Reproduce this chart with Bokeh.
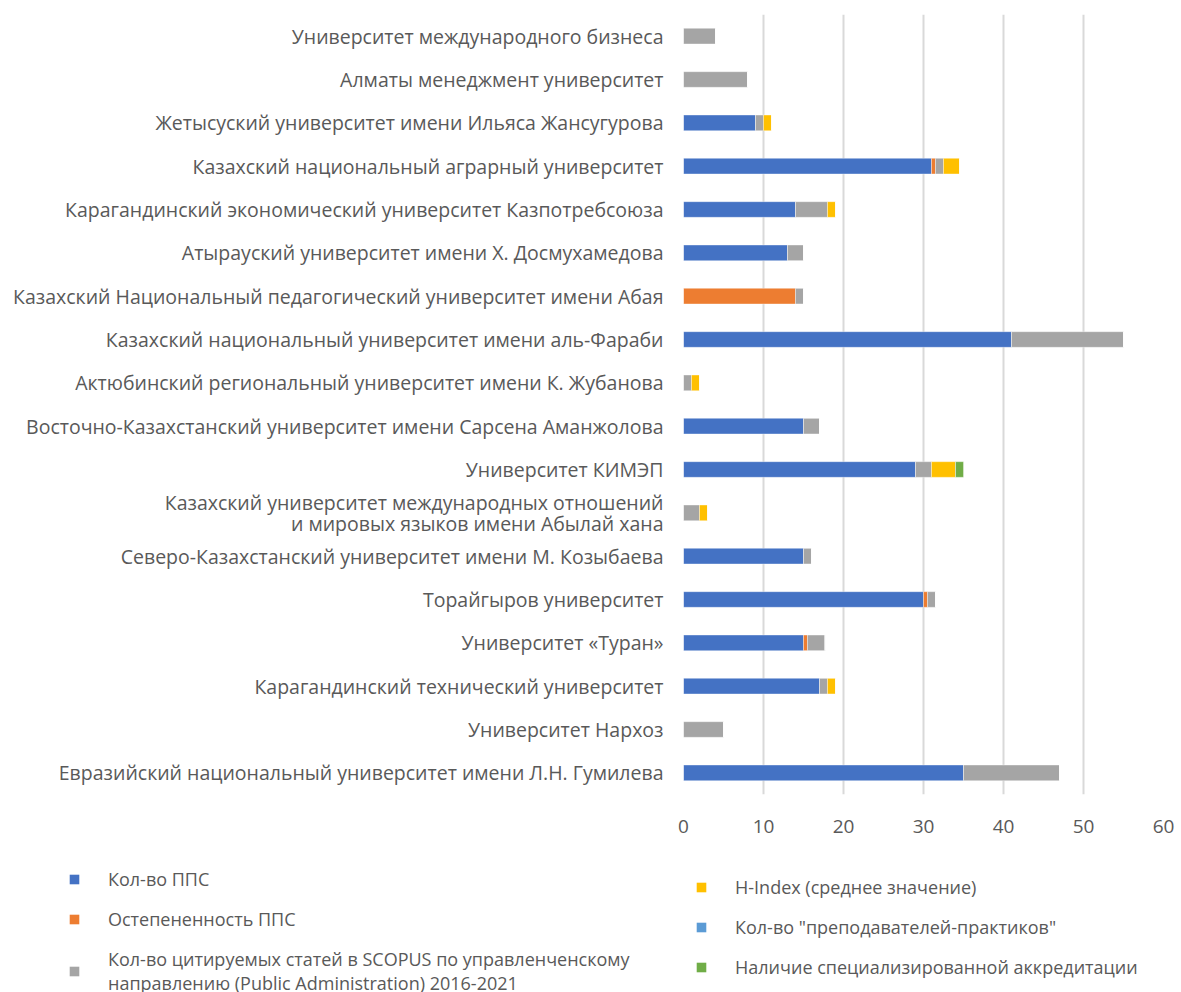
from bokeh.plotting import figure
from bokeh.models import ColumnDataSource, Legend, LegendItem, FixedTicker
from bokeh.layouts import column
from bokeh.embed import file_html
from bokeh.resources import INLINE

universities = [
    "Университет международного бизнеса",
    "Алматы менеджмент университет",
    "Жетысуский университет имени Ильяса Жансугурова",
    "Казахский национальный аграрный университет",
    "Карагандинский экономический университет Казпотребсоюза",
    "Атырауский университет имени Х. Досмухамедова",
    "Казахский Национальный педагогический университет имени Абая",
    "Казахский национальный университет имени аль-Фараби",
    "Актюбинский региональный университет имени К. Жубанова",
    "Восточно-Казахстанский университет имени Сарсена Аманжолова",
    "Университет КИМЭП",
    "Казахский университет международных отношений\nи мировых языков имени Абылай хана",
    "Северо-Казахстанский университет имени М. Козыбаева",
    "Торайгыров университет",
    "Университет «Туран»",
    "Карагандинский технический университет",
    "Университет Нархоз",
    "Евразийский национальный университет имени Л.Н. Гумилева",
]

kol_pps =      [0, 0, 9, 31, 14, 13, 0, 41, 0, 15, 29, 0, 15, 30, 15, 17, 0, 35]
ostep_pps =    [0, 0, 0, 0.5, 0, 0, 14, 0, 0, 0, 0, 0, 0, 0.5, 0.5, 0, 0, 0]
scopus =       [4, 8, 1, 1, 4, 2, 1, 14, 1, 2, 2, 2, 1, 1, 2.2, 1, 5, 12]
h_index =      [0, 0, 1, 2, 1, 0, 0, 0, 1, 0, 3, 1, 0, 0, 0, 1, 0, 0]
praktiki =     [0, 0, 0, 0, 0, 0, 0, 0, 0, 0, 0, 0, 0, 0, 0, 0, 0, 0]
akkreditacia = [0, 0, 0, 0, 0, 0, 0, 0, 0, 0, 1, 0, 0, 0, 0, 0, 0, 0]

series_names = [
    "Кол-во ППС",
    "Остепененность ППС",
    "Кол-во цитируемых статей в SCOPUS по управленченскому\nнаправлению (Public Administration) 2016-2021",
    "H-Index (среднее значение)",
    "Кол-во \"преподавателей-практиков\"",
    "Наличие специализированной аккредитации",
]
colors = ["#4472C4", "#ED7D31", "#A5A5A5", "#FFC000", "#5B9BD5", "#70AD47"]
keys = ["s0", "s1", "s2", "s3", "s4", "s5"]

source = ColumnDataSource(dict(
    uni=universities,
    s0=kol_pps, s1=ostep_pps, s2=scopus, s3=h_index, s4=praktiki, s5=akkreditacia,
))

FONT = "Open Sans"
TXT = "#595959"

p = figure(
    width=1175, height=842,
    y_range=list(reversed(universities)), x_range=(0, 60),
    output_backend="svg", toolbar_location=None, frame_align=False,
    min_border_left=683, min_border_right=12, min_border_top=14, min_border_bottom=48,
)

p.hbar_stack(keys, y="uni", height=0.36, color=colors, source=source,
             line_color="white", line_width=0.6, line_alpha=0.6)

p.outline_line_color = None
p.xgrid.grid_line_color = "#D9D9D9"
p.xgrid.grid_line_width = 2
p.ygrid.grid_line_color = None
p.xaxis.ticker = FixedTicker(ticks=[0, 10, 20, 30, 40, 50, 60])
p.xaxis.axis_line_color = None
p.xaxis.major_tick_line_color = None
p.xaxis.minor_tick_line_color = None
p.xaxis.major_label_text_font = FONT
p.xaxis.major_label_text_font_size = "19px"
p.xaxis.major_label_text_color = TXT
p.xaxis.major_label_standoff = 19
p.yaxis.axis_line_color = None
p.yaxis.major_tick_line_color = None
p.yaxis.major_label_text_font = FONT
p.yaxis.major_label_text_font_size = "19.5px"
p.yaxis.major_label_text_color = TXT
p.yaxis.major_label_text_line_height = 0.78
p.yaxis.major_label_standoff = 14

# Legend panel: a second figure carrying the same series styles (no visible bars)
leg = figure(
    width=1175, height=150, x_range=(100, 101), y_range=list(reversed(universities)),
    output_backend="svg", toolbar_location=None, frame_align=False,
    min_border_left=0, min_border_right=0, min_border_top=0, min_border_bottom=0,
)
leg.axis.visible = False
leg.grid.visible = False
leg.outline_line_color = None
leg_renderers = leg.hbar_stack(keys, y="uni", height=0.0, fill_color=colors,
                               line_color=None, source=source)

def make_legend(idx, loc):
    items = [LegendItem(label=series_names[i], renderers=[leg_renderers[i]]) for i in idx]
    return Legend(items=items, location=loc, orientation="vertical",
                  label_text_font=FONT, label_text_font_size="18px", label_text_color=TXT,
                  label_text_line_height=0.78, label_height=24,
                  glyph_width=12, glyph_height=12, spacing=16, padding=0, margin=0,
                  label_standoff=28, border_line_color=None, background_fill_alpha=0)

leg.add_layout(make_legend([0, 1, 2], (68, -3)), "center")
leg.add_layout(make_legend([3, 4, 5], (695, 13)), "center")

layout = column(p, leg, spacing=0)
open("out.html", "w").write(file_html(layout, INLINE))
